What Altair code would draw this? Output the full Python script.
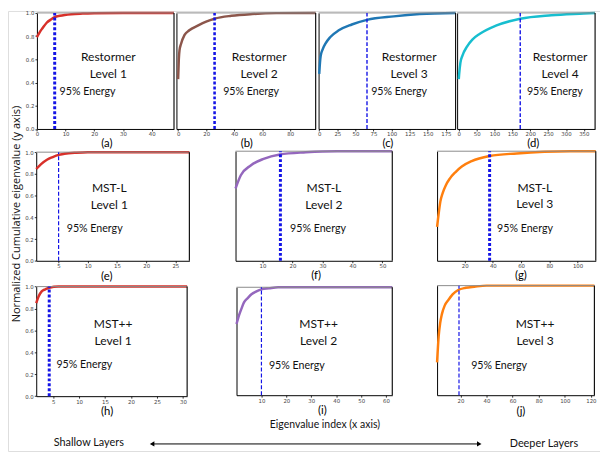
import altair as alt
import pandas as pd

# ---------------- data ----------------
panel_ids = ["a", "b", "c", "d", "e", "f", "g", "h", "i", "j"]
methods = ["Restormer", "Restormer", "Restormer", "Restormer",
           "MST-L", "MST-L", "MST-L", "MST++", "MST++", "MST++"]
levels = ["Level 1", "Level 2", "Level 3", "Level 4",
          "Level 1", "Level 2", "Level 3", "Level 1", "Level 2", "Level 3"]
cutoffs = [6.2, 26, 66, 172, 5, 16, 37.7, 4.25, 10, 18.9]

a_x = [0, 1, 2, 3.4, 5, 6.2, 8, 12, 16, 20, 30, 47.8]
a_y = [0.79, 0.835, 0.87, 0.915, 0.945, 0.963, 0.975, 0.989, 0.994, 0.997, 1.0, 1.0]
b_x = [0, 0.5, 1, 2, 4.6, 8, 14, 20, 26, 38, 53, 70, 98.1]
b_y = [0.43, 0.60, 0.68, 0.73, 0.81, 0.85, 0.89, 0.925, 0.95, 0.975, 0.99, 0.998, 1.0]
c_x = [0, 1, 2, 5, 9, 15, 27, 45, 66, 103, 139, 188.4]
c_y = [0.475, 0.57, 0.63, 0.69, 0.74, 0.79, 0.85, 0.90, 0.94, 0.97, 0.99, 1.0]
d_x = [0, 1, 4.5, 10, 23, 38, 59, 104, 172, 259, 350, 381.5]
d_y = [0.43, 0.47, 0.57, 0.63, 0.71, 0.77, 0.82, 0.89, 0.95, 0.98, 0.995, 1.0]
e_x = [1.17, 2, 3, 4, 5, 6, 8, 10, 27.4]
e_y = [0.845, 0.89, 0.93, 0.955, 0.975, 0.985, 0.995, 1.0, 1.0]
f_x = [1.04, 2.8, 6.1, 10.4, 15.8, 24.5, 35, 53.3]
f_y = [0.66, 0.78, 0.87, 0.93, 0.97, 0.99, 1.0, 1.0]
g_x = [0.48, 1.5, 2.8, 4.5, 6.7, 9.5, 13.6, 18, 25, 37.7, 57, 95, 112.9]
g_y = [0.31, 0.42, 0.54, 0.62, 0.69, 0.75, 0.81, 0.86, 0.91, 0.956, 0.98, 1.0, 1.0]
h_x = [1.75, 2.2, 2.8, 3.5, 4.25, 6, 30.8]
h_y = [0.85, 0.91, 0.956, 0.975, 0.99, 1.0, 1.0]
i_x = [0, 1, 1.95, 3, 4.5, 6, 7.8, 10, 13, 16.7, 62.5]
i_y = [0.66, 0.74, 0.80, 0.86, 0.90, 0.935, 0.96, 0.98, 0.99, 1.0, 1.0]
j_x = [2.1, 3.3, 4.5, 5.8, 8, 10.8, 14, 18.3, 24, 30.7, 40, 122.7]
j_y = [0.30, 0.535, 0.66, 0.74, 0.82, 0.87, 0.92, 0.96, 0.98, 0.99, 1.0, 1.0]
curves_x = [a_x, b_x, c_x, d_x, e_x, f_x, g_x, h_x, i_x, j_x]
curves_y = [a_y, b_y, c_y, d_y, e_y, f_y, g_y, h_y, i_y, j_y]

x_domains = [[0, 47.8], [-1.2, 98.1], [-0.9, 188.4], [-4.6, 381.5], [1.17, 27.4],
             [1.04, 53.3], [0.48, 112.9], [1.75, 30.8], [0, 62.5], [2.1, 122.7]]
x_ticks = [[0, 10, 20, 30, 40], [0, 20, 40, 60, 80],
           [0, 25, 50, 75, 100, 125, 150, 175], [0, 50, 100, 150, 200, 250, 300, 350],
           [5, 10, 15, 20, 25], [10, 20, 30, 40, 50], [20, 40, 60, 80, 100],
           [5, 10, 15, 20, 25, 30], [10, 20, 30, 40, 50, 60], [20, 40, 60, 80, 100, 120]]
y_ticks = [0.0, 0.2, 0.4, 0.6, 0.8, 1.0]

# ---------------- layout / style ----------------
W, H = 600, 446
SX, SY = 597 / 605, 445 / 454
def cx(rx): return (rx - 2) * SX
def cy(ry): return ry * SY

boxes = [(31.7, 2, 172.5, 122), (175, 2, 318, 122), (321, 2, 461.7, 122), (463.3, 2, 605, 122),
         (31, 146, 188.3, 258.3), (235.7, 145, 396.7, 258.3), (442.7, 145, 605.7, 258.3),
         (31, 285, 186, 398.3), (236.7, 285.7, 396.7, 397.3), (442.7, 284, 604.3, 397.3)]
colors = ["#d8302a", "#8c564b", "#1f77b4", "#17becf", "#d8302a", "#9467bd", "#ff7f0e",
          "#d8302a", "#9467bd", "#ff7f0e"]
cut_w = [3, 2.6, 1.4, 1.4, 1.2, 3, 3, 3, 1.2, 1.2]
# text anchors in reference pixels: title centre x, method y, level y, energy left x, energy y, caption x, caption y
txt = [(105, 48, 65, 55, 84, 103, 137), (260, 48, 65, 223, 84, 246.7, 137),
       (414, 48, 65, 375, 84, 391.7, 137), (569, 48, 65, 535, 84, 541, 137),
       (106, 183.3, 200.7, 62.3, 225, 103, 275), (326.5, 183.3, 200.7, 291.7, 225, 318, 274),
       (543, 182.7, 200, 504.3, 225, 528.3, 274), (110, 324, 341.7, 51.7, 366, 103.3, 414),
       (321, 323.3, 341.7, 270, 366.7, 324.3, 413.5), (543.3, 324, 341.7, 477.7, 366.7, 528.3, 414)]
FONT = "Lato"
BLUE = "#1414e6"

panels = []
for k, pid in enumerate(panel_ids):
    l, t, r, b = boxes[k]
    x0, x1 = x_domains[k]
    def dx(rx, l=l, r=r, x0=x0, x1=x1): return x0 + (rx - l) / (r - l) * (x1 - x0)
    def dy(ry, t=t, b=b): return (b - ry) / (b - t)
    xs = alt.Scale(domain=[x0, x1], range=[cx(l), cx(r)], nice=False, zero=False)
    ys = alt.Scale(domain=[0, 1], range=[cy(b), cy(t)], nice=False, zero=False)
    show_y = pid in ("a", "e", "h")
    tx, ty1, ty2, ex, ey, capx, capy = txt[k]
    xaxis = alt.Axis(orient="bottom", offset=cy(b) - H, values=x_ticks[k], grid=False,
                     labelFontSize=5.5, labelColor="#444", labelPadding=1, tickSize=2,
                     tickColor="#333", domainColor="#000", labelFlush=False, labelOverlap=False,
                     labelFont="DejaVu Sans",
                     title=f"({pid})", titleFont=FONT, titleFontSize=11.5, titleFontWeight="normal",
                     titleColor="#000", titleX=cx(capx), titleY=cy(capy) - cy(b),
                     titleAlign="center", titleBaseline="middle", titleAngle=0)
    if show_y:
        yaxis = alt.Axis(orient="left", offset=-cx(l), values=y_ticks, format=".1f", grid=False,
                         labelFontSize=5.5, labelColor="#444", labelPadding=1, tickSize=2,
                         tickColor="#333", domainColor="#000", labelFlush=False,
                         labelFont="DejaVu Sans", title=None)
    else:
        yaxis = alt.Axis(orient="left", offset=-cx(l), labels=False, ticks=False, grid=False,
                         domainColor="#000", title=None)

    curve = pd.DataFrame({"x": curves_x[k], "y": curves_y[k]})
    line = alt.Chart(curve).mark_line(color=colors[k], strokeWidth=2.5, interpolate="monotone").encode(
        x=alt.X("x:Q", scale=xs, axis=xaxis), y=alt.Y("y:Q", scale=ys, axis=yaxis))
    frame = pd.DataFrame({"x": [x0], "x2": [x1], "y": [1.0], "y0": [0.0]})
    top = alt.Chart(frame).mark_rule(color="#8a8a8a", strokeWidth=1).encode(
        x="x:Q", x2="x2", y="y:Q")
    right = alt.Chart(frame).mark_rule(color="#111", strokeWidth=1.2).encode(
        x="x2:Q", y="y0:Q", y2="y")
    cut = pd.DataFrame({"x": [cutoffs[k]], "y0": [0.0], "y1": [1.0]})
    rule = alt.Chart(cut).mark_rule(color=BLUE, strokeWidth=cut_w[k],
                                    strokeDash=[3, 2] if cut_w[k] > 2 else [4, 2]).encode(
        x="x:Q", y="y0:Q", y2="y1")
    titles = pd.DataFrame({"x": [dx(tx), dx(tx)], "y": [dy(ty1), dy(ty2)],
                           "label": [methods[k], levels[k]]})
    ttl = alt.Chart(titles).mark_text(font=FONT, fontSize=12.2, color="#111", align="center",
                                      baseline="middle").encode(x="x:Q", y="y:Q", text="label:N")
    en = pd.DataFrame({"x": [dx(ex)], "y": [dy(ey)], "label": ["95% Energy"]})
    ent = alt.Chart(en).mark_text(font=FONT, fontSize=10.8, color="#111", align="left",
                                  baseline="middle").encode(x="x:Q", y="y:Q", text="label:N")
    panels.append(alt.layer(line, top, right, rule, ttl, ent))

# ---------------- figure-level annotations ----------------
ann_text = ["Eigenvalue index (x axis)", "Shallow Layers", "Deeper Layers"]
ann = pd.DataFrame({"label": ann_text,
                    "px": [cx(327.5), cx(85), cx(552.5)],
                    "py": [cy(428), cy(447), cy(447.5)],
                    "size": [10.6, 11, 11]})
ann_layer = alt.Chart(ann).mark_text(font=FONT, color="#111", align="center",
                                     baseline="middle").encode(
    x=alt.X("px:Q", scale=None, axis=None), y=alt.Y("py:Q", scale=None, axis=None),
    text="label:N", size=alt.Size("size:Q", scale=None, legend=None))
ytitle = pd.DataFrame({"label": ["Normalized Cumulative eigenvalue (y axis)"],
                       "px": [cx(11)], "py": [cy(210)]})
ytitle_layer = alt.Chart(ytitle).mark_text(font="Open Sans", fontSize=11.2, color="#111",
                                           align="center", baseline="middle", angle=270).encode(
    x=alt.X("px:Q", scale=None, axis=None), y=alt.Y("py:Q", scale=None, axis=None),
    text="label:N")
arrow = pd.DataFrame({"px": [cx(150)], "px2": [cx(486)], "py": [cy(447.7)]})
arrow_line = alt.Chart(arrow).mark_rule(color="#000", strokeWidth=1).encode(
    x=alt.X("px:Q", scale=None, axis=None), x2="px2", y=alt.Y("py:Q", scale=None, axis=None))
heads = pd.DataFrame({"px": [cx(150), cx(486)], "py": [cy(447.7), cy(447.7)],
                      "shape": ["triangle-left", "triangle-right"]})
arrow_heads = alt.Chart(heads).mark_point(filled=True, color="#000", size=28, opacity=1).encode(
    x=alt.X("px:Q", scale=None, axis=None), y=alt.Y("py:Q", scale=None, axis=None),
    shape=alt.Shape("shape:N", scale=None))

chart = alt.layer(*panels, ann_layer, ytitle_layer, arrow_line, arrow_heads).resolve_scale(
    x="independent", y="independent").resolve_axis(x="independent", y="independent").properties(
    width=W, height=H, padding=0, autosize=alt.AutoSizeParams(type="none")
).configure_view(stroke=None).configure(background="white")

chart.save("out.html", embed_options={"renderer": "svg", "actions": False})
